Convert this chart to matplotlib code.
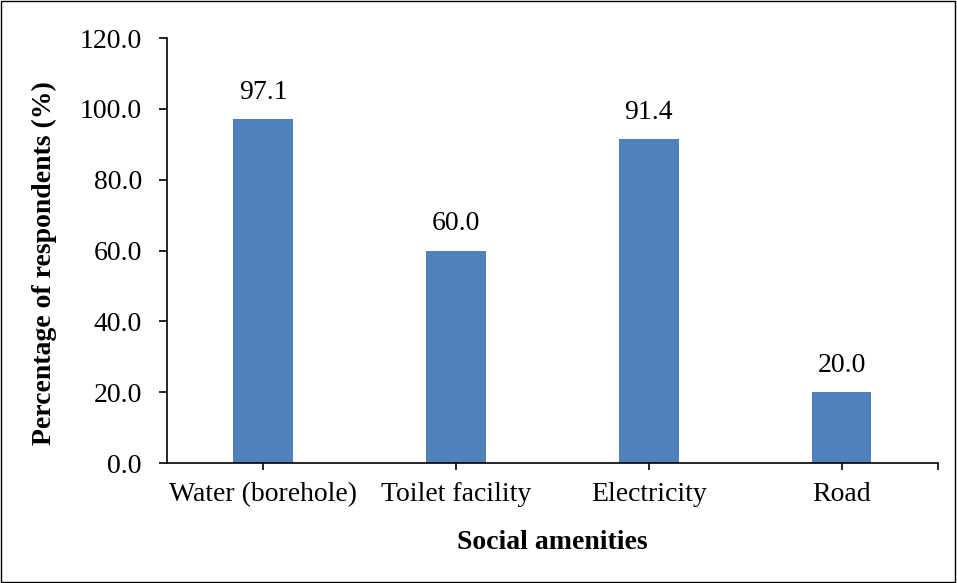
import matplotlib
matplotlib.use('Agg')
import matplotlib.pyplot as plt
from matplotlib.patches import Rectangle

# data
amenities = ['Water (borehole)', 'Toilet facility', 'Electricity', 'Road']
percent = [97.1, 60.0, 91.4, 20.0]
yticks = [0, 20, 40, 60, 80, 100, 120]

plt.rcParams['font.family'] = ['Liberation Serif', 'DejaVu Serif']

fig = plt.figure(figsize=(9.57, 5.83), dpi=100)
ax = fig.add_axes([0.1745, 0.2058, 0.8055, 0.729])

x = list(range(len(amenities)))
bars = ax.bar(x, percent, width=0.31, color='#4F81BD')

for b, v in zip(bars, percent):
    ax.text(b.get_x() + b.get_width() / 2, v + 4, f'{v:.1f}',
            ha='center', va='bottom', fontsize=20)

ax.set_xlim(-0.5, len(amenities) - 0.5)
ax.set_ylim(0, 120)
ax.set_yticks(yticks)
ax.set_yticklabels([f'{t:.1f}' for t in yticks], fontsize=20)
ax.set_xticks(x)
ax.set_xticklabels(amenities, fontsize=20)
ax.tick_params(axis='x', which='major', length=5, width=1.2, pad=9)
ax.set_xticks([len(amenities) - 0.5], minor=True)
ax.tick_params(axis='x', which='minor', length=5, width=1.2)
ax.tick_params(axis='y', length=6, width=1.2, pad=12)

for s in ['top', 'right']:
    ax.spines[s].set_visible(False)
for s in ['left', 'bottom']:
    ax.spines[s].set_linewidth(1.2)

# axis titles placed like the original (y title sits a bit below axis centre)
fig.text(0.046, 0.549, 'Percentage of respondents (%)', rotation=90,
         ha='center', va='center', fontsize=20, fontweight='bold')
fig.text(0.577, 0.069, 'Social amenities', ha='center', va='center',
         fontsize=20, fontweight='bold')

# frame around the whole chart
fig.patches.append(Rectangle((0.001, 0.002), 0.997, 0.996, transform=fig.transFigure,
                             fill=False, edgecolor='black', linewidth=1))

fig.savefig('out.png', dpi=100)
